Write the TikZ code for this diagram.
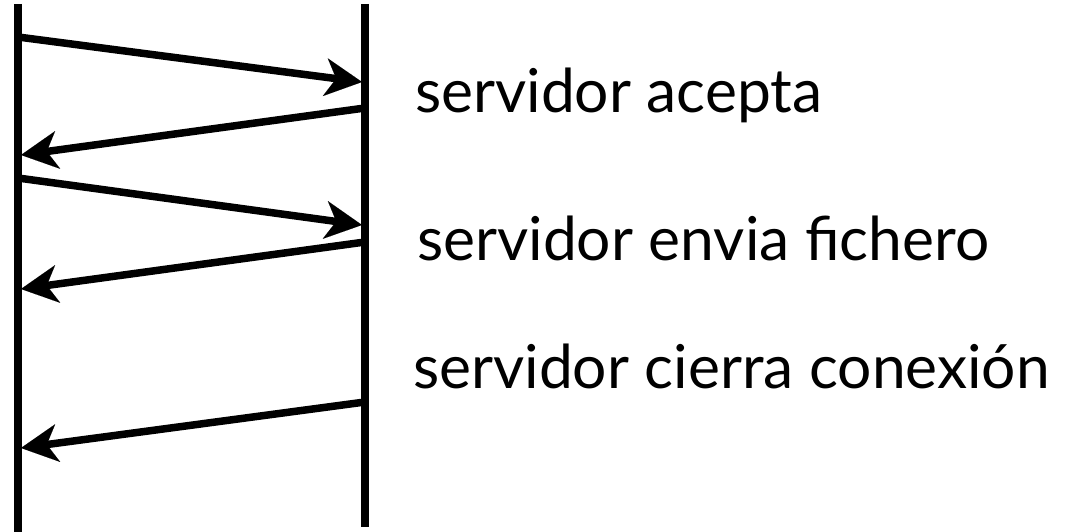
\documentclass[tikz,border=0pt]{standalone}
\usepackage{fontspec}
\setmainfont{Lato}
\usetikzlibrary{arrows.meta}
\tikzset{
  lifeline/.style={line width=7.5pt, line cap=butt},
  msg/.style={line width=7.5pt, -{Stealth[length=37pt,width=38pt,inset=11pt,line width=0.01pt]}},
  lbl/.style={anchor=base west, inner sep=0pt, font=\fontsize{60.5}{62}\selectfont}
}
\begin{document}
\begin{tikzpicture}[x=1pt,y=-1pt]
\useasboundingbox (0,0) rectangle (1068,532);
% lifelines
\coordinate (Ltop) at (18,4);
\coordinate (Lbot) at (18,532);
\coordinate (Rtop) at (365,4);
\coordinate (Rbot) at (365,527);
\draw[lifeline] (Ltop) -- (Lbot);
\draw[lifeline] (Rtop) -- (Rbot);
% message endpoints
\coordinate (a1) at (18,37);  \coordinate (b1) at (362,82);
\coordinate (a2) at (365,108); \coordinate (b2) at (21,155);
\coordinate (a3) at (18,178); \coordinate (b3) at (362,225);
\coordinate (a4) at (365,242); \coordinate (b4) at (21,289);
\coordinate (a5) at (365,402); \coordinate (b5) at (21,448);
\draw[msg] (a1) -- (b1);
\draw[msg] (a2) -- (b2);
\draw[msg] (a3) -- (b3);
\draw[msg] (a4) -- (b4);
\draw[msg] (a5) -- (b5);
% labels
\node[lbl] (t1) at (415,113) {servidor acepta};
\node[lbl] (t2) at (417,260) {servidor envia fichero};
\node[lbl] (t3) at (413,388) {servidor cierra conexión};
\end{tikzpicture}
\end{document}
